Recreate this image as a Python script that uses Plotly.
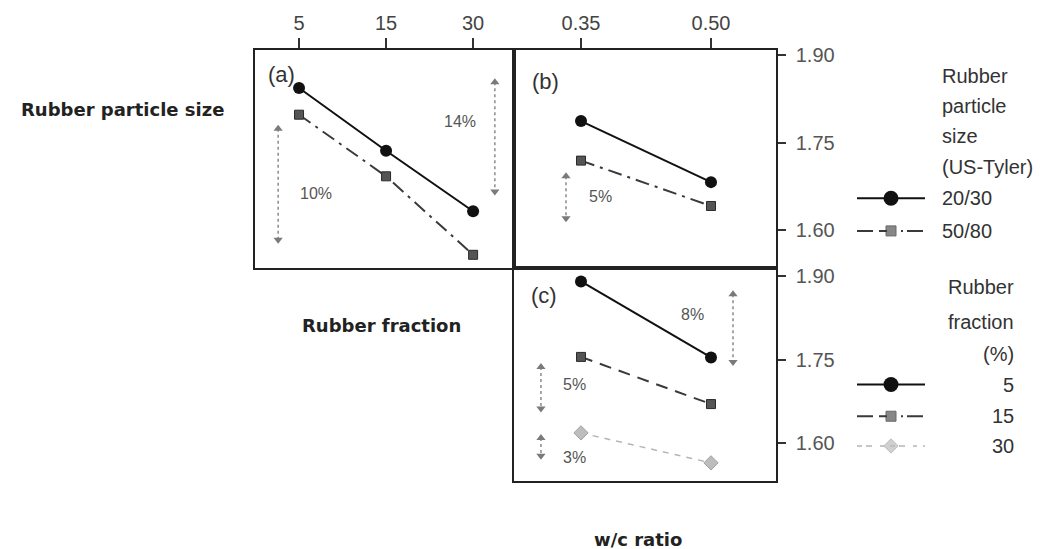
import plotly.graph_objects as go

# ---- data -------------------------------------------------------------
fraction_labels = ["5", "15", "30"]          # rubber fraction (%)
wc_ratio = [0.35, 0.50]                        # water/cement ratio
wc_labels = ["0.35", "0.50"]
density_ticks = [1.60, 1.75, 1.90]

# (a) density vs rubber fraction, by particle size
dens_2030_frac = [1.844, 1.736, 1.632]
dens_5080_frac = [1.798, 1.692, 1.557]
# (b) density vs w/c ratio, by particle size
dens_2030_wc = [1.787, 1.682]
dens_5080_wc = [1.719, 1.641]
# (c) density vs w/c ratio, by rubber fraction
dens_f5_wc = [1.891, 1.754]
dens_f15_wc = [1.755, 1.670]
dens_f30_wc = [1.618, 1.564]

# reduction arrows: (panel, x, y_top, y_bottom, label, label_x, label_y)
arrows = [
    ("a", -0.24, 1.774, 1.583, "10%", 0.20, 1.663),
    ("a", 2.25, 1.854, 1.666, "14%", 1.85, 1.786),
    ("b", 0.3327, 1.692, 1.620, "5%", 0.372, 1.658),
    ("c", 0.5254, 1.868, 1.746, "8%", 0.479, 1.832),
    ("c", 0.3038, 1.737, 1.662, "5%", 0.342, 1.705),
    ("c", 0.3038, 1.609, 1.577, "3%", 0.343, 1.573),
]

W, H = 1042, 549
def fx(p):
    return p / W
def fy(p):
    return 1 - p / H

SANS = "Liberation Sans, Arial, sans-serif"
BOLD = "DejaVu Sans, sans-serif"

# series styles
S_2030 = dict(line=dict(color="#111111", width=2, dash="solid"),
              marker=dict(symbol="circle", size=12, color="#111111", opacity=1,
                          line=dict(color="#111111", width=0)))
S_5080 = dict(line=dict(color="#3a3a3a", width=2, dash="14px,6px,3px,6px"),
              marker=dict(symbol="square", size=9, color="#555555",
                          line=dict(color="#2a2a2a", width=1)))
S_F15 = dict(line=dict(color="#3a3a3a", width=2, dash="12px,8px"),
             marker=dict(symbol="square", size=9, color="#555555",
                         line=dict(color="#2a2a2a", width=1)))
S_F30 = dict(line=dict(color="#b5b5b5", width=1.5, dash="6px,6px"),
             marker=dict(symbol="diamond", size=11, color="#bdbdbd",
                         line=dict(color="#a0a0a0", width=1)))

fig = go.Figure()
frac_pos = list(range(len(fraction_labels)))

def add_series(x, y, style, xa, ya):
    fig.add_trace(go.Scatter(x=x, y=y, mode="lines+markers", xaxis=xa, yaxis=ya,
                             line=style["line"], marker=style["marker"],
                             showlegend=False, hoverinfo="skip"))

add_series(frac_pos, dens_2030_frac, S_2030, "x", "y")
add_series(frac_pos, dens_5080_frac, S_5080, "x", "y")
add_series(wc_ratio, dens_2030_wc, S_2030, "x2", "y2")
add_series(wc_ratio, dens_5080_wc, S_5080, "x2", "y2")
add_series(wc_ratio, dens_f5_wc, S_2030, "x3", "y3")
add_series(wc_ratio, dens_f15_wc, S_F15, "x3", "y3")
add_series(wc_ratio, dens_f30_wc, S_F30, "x3", "y3")

axmap = {"a": ("x", "y"), "b": ("x2", "y2"), "c": ("x3", "y3")}
annotations = []
for panel, ax_x, y0, y1, lab, lx, ly in arrows:
    xa, ya = axmap[panel]
    fig.add_trace(go.Scatter(
        x=[ax_x, ax_x], y=[y0, y1], mode="lines+markers", xaxis=xa, yaxis=ya,
        line=dict(color="#8a8a8a", width=1.5, dash="dot"),
        marker=dict(symbol=["triangle-up", "triangle-down"], size=8, color="#7a7a7a"),
        showlegend=False, hoverinfo="skip"))
    annotations.append(dict(x=lx, y=ly, xref=xa, yref=ya, text=lab, showarrow=False,
                            font=dict(family=SANS, size=16, color="#555555")))

# legend keys drawn on a full-page helper axis (pixel units)
key_x = [857, 891, 925]
KEY_DASH = {"solid": "solid", "a": "16px,6px,8px,14px,2px,4px", "b": "16px,6px,8px,14px,2px,4px",
            "c": "5px,4px,6px,8px,4px,6px"}
legend_rows = [
    (195, S_2030, 15, "solid"), (228, S_5080, 10, "a"),
    (383, S_2030, 15, "solid"), (415, S_F15, 10, "b"), (445, S_F30, 11, "c"),
]
for ky, style, msize, dk in legend_rows:
    mk = dict(style["marker"])
    mk["size"] = [0, msize, 0]
    ln = dict(style["line"])
    ln["dash"] = KEY_DASH[dk]
    fig.add_trace(go.Scatter(x=key_x, y=[ky] * 3, mode="lines+markers",
                             xaxis="x4", yaxis="y4", line=ln, marker=mk,
                             showlegend=False, hoverinfo="skip"))

# legend texts
leg1 = [("Rubber", 72), ("particle", 102), ("size", 132), ("(US-Tyler)", 163),
        ("20/30", 195), ("50/80", 228)]
for t, yy in leg1:
    annotations.append(dict(x=fx(940), y=fy(yy), xref="paper", yref="paper", text=t,
                            showarrow=False, xanchor="left", yanchor="middle",
                            font=dict(family=SANS, size=20, color="#333333")))
leg2 = [("Rubber", 285), ("fraction", 320), ("(%)", 352), ("5", 383), ("15", 415), ("30", 445)]
for t, yy in leg2:
    annotations.append(dict(x=fx(1016), y=fy(yy), xref="paper", yref="paper", text=t,
                            showarrow=False, xanchor="right", yanchor="middle",
                            font=dict(family=SANS, size=20, color="#333333")))

# panel letters
for t, px_, py_ in [("(a)", 281, 70), ("(b)", 545, 77), ("(c)", 544, 293)]:
    annotations.append(dict(x=fx(px_), y=fy(py_), xref="paper", yref="paper", text=t,
                            showarrow=False, xanchor="center", yanchor="middle",
                            font=dict(family=SANS, size=22, color="#333333")))

# factor labels
for t, px_, py_ in [("Rubber particle size", 122, 105), ("Rubber fraction", 381, 323),
                    ("w/c ratio", 638, 539)]:
    annotations.append(dict(x=fx(px_), y=fy(py_), xref="paper", yref="paper",
                            text="<b>%s</b>" % t, showarrow=False,
                            xanchor="center", yanchor="middle",
                            font=dict(family=BOLD, size=18, color="#222222")))

box = dict(showline=True, mirror=True, linecolor="#222222", linewidth=1.5,
           showgrid=False, zeroline=False)
tickfont = dict(family=SANS, size=20, color="#555555")

fig.update_layout(
    width=W, height=H, margin=dict(l=0, r=0, t=0, b=0),
    paper_bgcolor="white", plot_bgcolor="rgba(0,0,0,0)",
    xaxis=dict(domain=[fx(255), fx(514)], anchor="y", side="top",
               range=[-0.506, 2.47], tickvals=frac_pos, ticktext=fraction_labels,
               ticks="outside", ticklen=10, tickwidth=2, tickcolor="#333333",
               tickfont=dict(family=SANS, size=20, color="#444444"), **box),
    yaxis=dict(domain=[fy(265), fy(45)], anchor="x", range=[1.535, 1.910],
               showticklabels=False, ticks="", **box),
    xaxis2=dict(domain=[fx(514), fx(776)], anchor="y2", side="top",
                range=[0.2727, 0.575], tickvals=wc_ratio, ticktext=wc_labels,
                ticks="outside", ticklen=10, tickwidth=2, tickcolor="#333333",
                tickfont=dict(family=SANS, size=20, color="#444444"), **box),
    yaxis2=dict(domain=[fy(265), fy(45)], anchor="x2", side="right",
                range=[1.535, 1.910], tickvals=density_ticks,
                ticktext=["%.2f" % v for v in density_ticks],
                ticks="outside", ticklen=8, tickwidth=2, tickcolor="#333333",
                ticklabelstandoff=6, tickfont=tickfont, **box),
    xaxis3=dict(domain=[fx(514), fx(776)], anchor="y3", range=[0.2727, 0.575],
                showticklabels=False, ticks="", **box),
    yaxis3=dict(domain=[fy(480), fy(265)], anchor="x3", side="right",
                range=[1.532, 1.916], tickvals=density_ticks,
                ticktext=["%.2f" % v for v in density_ticks],
                ticks="outside", ticklen=8, tickwidth=2, tickcolor="#333333",
                ticklabelstandoff=6, tickfont=tickfont, **box),
    xaxis4=dict(domain=[0, 1], anchor="y4", range=[0, W], visible=False),
    yaxis4=dict(domain=[0, 1], anchor="x4", range=[H, 0], visible=False),
    annotations=annotations,
)

fig.write_html("out.html")
